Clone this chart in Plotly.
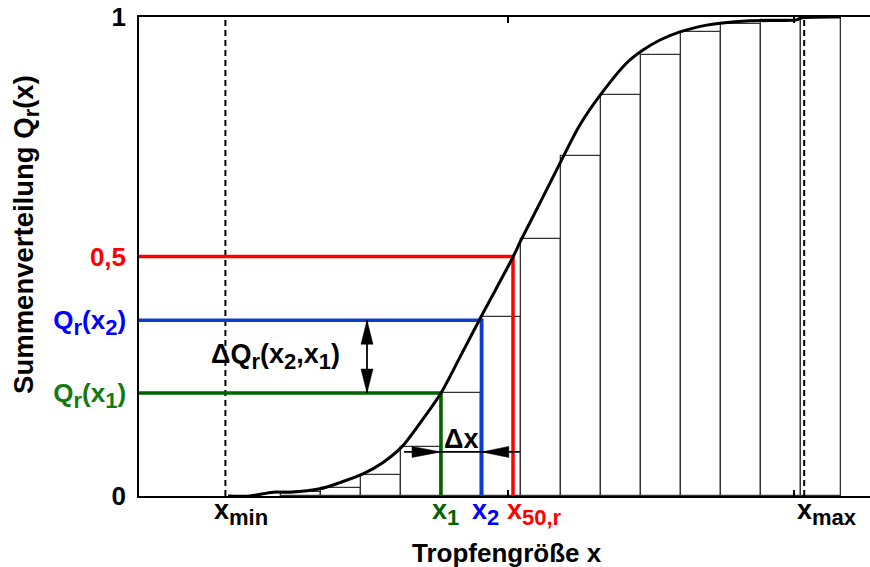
import plotly.graph_objects as go

# ---- data (x in class-width units, Q = cumulative distribution) ----
bar_left_edges = [0, 1, 2, 3, 4, 5, 6, 7, 8, 9, 10, 11, 12, 13]
bar_Q = [0.008, 0.017, 0.044, 0.103, 0.214, 0.373, 0.537, 0.710, 0.837,
         0.921, 0.968, 0.985, 0.993, 1.0]

curve_x = [-1.325, -0.775, -0.2, 0.225, 0.975, 1.475, 2.05, 2.55, 3.025, 3.475,
           4.0, 4.5, 5.0, 5.225, 5.8, 6.0, 6.5, 6.975, 7.475, 8.017, 8.642,
           9.05, 9.475, 9.975, 10.642, 10.975, 11.725, 12.89, 13.0, 14.0]
curve_Q = [0.0, 0.0, 0.008, 0.008, 0.015, 0.028, 0.046, 0.07, 0.103, 0.152,
           0.215, 0.294, 0.374, 0.409, 0.499, 0.534, 0.616, 0.695, 0.775, 0.841,
           0.904, 0.931, 0.952, 0.969, 0.983, 0.987, 0.992, 0.994, 0.998, 1.0]

x_min, x_max = -1.39, 13.08
x_1, x_2, x_50 = 4.0, 5.02, 5.8
Q_1, Q_2, Q_50 = 0.215, 0.367, 0.5
minor_tick_x = [5.67, 12.83]

SUB = '<sub><span style="font-size:22px">{}</span></sub>'


def sub(t):
    return SUB.format(t)


y_tickvals = [0, Q_1, Q_2, Q_50, 1]
y_ticktext = ["0",
              '<span style="color:#137a13">Q' + sub("r") + "(x" + sub("1") + ")</span>",
              '<span style="color:#0000ff">Q' + sub("r") + "(x" + sub("2") + ")</span>",
              '<span style="color:#ff0000">0,5</span>',
              "1"]

# ---- styling / geometry ----
X_RANGE = [-3.55, 14.725]
PLOT_W, PLOT_H = 731, 479
PX_X = PLOT_W / (X_RANGE[1] - X_RANGE[0])
PX_Y = PLOT_H / 1.0
RED, BLUE, GREEN = "#ff0000", "#0a3cd0", "#006400"
FONT = "Liberation Sans, Arial, sans-serif"
FS = 26
FS_L = 27

fig = go.Figure()

# histogram bars
fig.add_trace(go.Bar(
    x=[e + 0.5 for e in bar_left_edges], y=bar_Q, width=1,
    marker=dict(color="white", line=dict(color="#333333", width=1.3)),
    hoverinfo="skip"))

# dashed x_min / x_max lines
for xv in (x_min, x_max):
    fig.add_trace(go.Scatter(x=[xv, xv], y=[0, 1], mode="lines",
                             line=dict(color="black", width=2, dash="6px,4px"),
                             hoverinfo="skip"))

# coloured reading lines
for xv, qv, col in ((x_50, Q_50, RED), (x_2, Q_2, BLUE), (x_1, Q_1, GREEN)):
    fig.add_trace(go.Scatter(x=[X_RANGE[0], xv, xv], y=[qv, qv, 0], mode="lines",
                             line=dict(color=col, width=3.5), hoverinfo="skip",
                             cliponaxis=False))

# cumulative curve
fig.add_trace(go.Scatter(x=curve_x, y=curve_Q, mode="lines",
                         line=dict(color="black", width=3, shape="spline", smoothing=0.8),
                         hoverinfo="skip"))


def tri(tip_x, tip_y, dx, dy, length_px, width_px):
    """filled arrow head with tip at (tip_x, tip_y) pointing in direction (dx,dy)"""
    bx = tip_x - dx * length_px / PX_X
    by = tip_y - dy * length_px / PX_Y
    hx = -dy * width_px / 2 / PX_X
    hy = dx * width_px / 2 / PX_Y
    fig.add_trace(go.Scatter(x=[tip_x, bx + hx, bx - hx, tip_x],
                             y=[tip_y, by + hy, by - hy, tip_y],
                             mode="lines", fill="toself", fillcolor="black",
                             line=dict(color="black", width=0.5), hoverinfo="skip"))


# Delta Q double arrow
dq_x = 2.15
fig.add_trace(go.Scatter(x=[dq_x, dq_x], y=[Q_1, Q_2], mode="lines",
                         line=dict(color="black", width=1.8), hoverinfo="skip"))
tri(dq_x, Q_2, 0, 1, 24, 12)
tri(dq_x, Q_1, 0, -1, 24, 12)

# Delta x arrows
dx_y = 0.092
fig.add_trace(go.Scatter(x=[x_1 - 0.925, x_2 + 0.95], y=[dx_y, dx_y], mode="lines",
                         line=dict(color="black", width=1.8), hoverinfo="skip"))
tri(x_1, dx_y, 1, 0, 29, 11)
tri(x_2, dx_y, -1, 0, 27, 11)

# annotations
ann = []
for xv, txt, col, sh in ((x_min, "x" + sub("min"), "black", -13),
                         (x_1, "x" + sub("1"), GREEN, -11),
                         (x_2, "x" + sub("2"), "#0000ff", -12),
                         (x_50, "x" + sub("50,r"), RED, -8),
                         (x_max, "x" + sub("max"), "black", -9)):
    ann.append(dict(x=xv, y=0, xref="x", yref="y", text=txt, showarrow=False,
                    xanchor="left", yanchor="top", xshift=sh, yshift=3,
                    font=dict(family=FONT, size=FS_L, color=col, weight="bold")))
ann.append(dict(x=-0.15, y=(Q_1 + Q_2) / 2, xref="x", yref="y",
                text="ΔQ" + sub("r") + "(x" + sub("2") + ",x" + sub("1") + ")",
                showarrow=False, xanchor="center", yanchor="middle",
                font=dict(family=FONT, size=FS_L, color="black", weight="bold")))
ann.append(dict(x=(x_1 + x_2) / 2, y=0.119, xref="x", yref="y", text="Δx",
                showarrow=False, xanchor="center", yanchor="middle",
                font=dict(family=FONT, size=FS_L, color="black", weight="bold")))
ann.append(dict(x=0.503, y=-71 / PLOT_H, xref="paper", yref="paper",
                text="Tropfengröße x", showarrow=False, xanchor="center",
                yanchor="bottom", yshift=-3,
                font=dict(family=FONT, size=FS, color="black", weight="bold")))
ann.append(dict(x=-113 / PLOT_W, y=0.545, xref="paper", yref="paper",
                text="Summenverteilung Q" + sub("r") + "(x)", showarrow=False,
                textangle=-90, xanchor="center", yanchor="middle",
                font=dict(family=FONT, size=27.5, color="black", weight="bold")))

fig.update_layout(
    width=870, height=567,
    margin=dict(l=139, r=0, t=17, b=71),
    plot_bgcolor="white", paper_bgcolor="white",
    showlegend=False, bargap=0,
    annotations=ann,
    xaxis=dict(range=X_RANGE, showgrid=False, zeroline=False, showline=True,
               linecolor="black", linewidth=1.5, mirror="ticks",
               tickvals=minor_tick_x, ticks="inside", ticklen=6, tickwidth=2,
               tickcolor="black", showticklabels=False),
    yaxis=dict(range=[0, 1], showgrid=False, zeroline=False, showline=True,
               linecolor="black", linewidth=1.5, mirror=False,
               tickvals=y_tickvals, ticktext=y_ticktext, ticks="",
               ticklabelstandoff=6,
               tickfont=dict(family=FONT, size=FS, color="black", weight="bold")),
)

fig.write_html("out.html", config={"displayModeBar": False},
               post_script="document.body.style.margin='0px';"
                           "document.body.style.overflow='hidden';")
